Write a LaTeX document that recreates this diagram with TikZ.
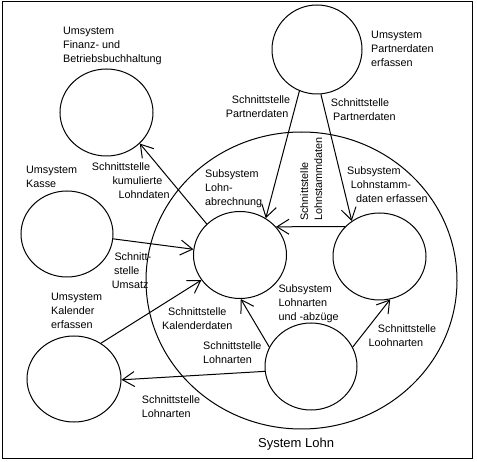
\documentclass[tikz,border=0pt]{standalone}
\usepackage{fontspec}
\setmainfont{Liberation Sans}
\usetikzlibrary{shapes.geometric,arrows.meta}
\newcommand{\mlines}[1]{\vtop{\baselineskip=14pt\lineskiplimit=-20pt\halign{##\hfil\cr#1\crcr}}}
\begin{document}
\begin{tikzpicture}[x=1pt,y=-1pt,
  ell/.style={draw, ellipse, inner sep=0pt, line width=1pt},
  lbl/.style={anchor=base west, inner sep=0pt, font=\fontsize{10.8}{14}\selectfont},
  arr/.style={draw, line width=1pt, -{Straight Barb[length=12pt,width=15pt]}}]
\useasboundingbox (0,0) rectangle (477,462);
\draw[line width=1pt] (2,2) rectangle (472,459);
% circles
\node[ell, minimum width=311pt, minimum height=297pt] (sys) at (301.5,280.5) {};
\node[ell, minimum width=93pt, minimum height=87pt] (fin) at (106.5,112.5) {};
\node[ell, minimum width=90pt, minimum height=89pt] (par) at (317,49.5) {};
\node[ell, minimum width=92pt, minimum height=86pt] (kas) at (67,234) {};
\node[ell, minimum width=94pt, minimum height=86pt] (kal) at (74,379) {};
\node[ell, minimum width=93pt, minimum height=87pt] (abr) at (240,255) {};
\node[ell, minimum width=93pt, minimum height=87pt] (sta) at (379.5,256.5) {};
\node[ell, minimum width=92pt, minimum height=87pt] (lar) at (311,366.5) {};
% connectors
\draw[arr] (abr.137) -- (fin.317);
\draw[arr] (kas.354) -- (abr.173);
\draw[arr] (kal.53) -- (abr.213);
\draw[arr] (lar.186) -- (kal.359);
\draw[arr] (lar.155) -- (abr.271);
\draw[arr] (lar.25) -- (sta.284);
\draw[arr] (sta.139) -- (abr.38);
\draw[arr] (par.247) -- (abr.55);
\draw[arr] (par.275) -- (sta.128);
% labels
\node[lbl] (tfin) at (63,34.3) {\mlines{Umsystem\cr Finanz- und\cr Betriebsbuchhaltung}};
\node[lbl] (tpar) at (371,39) {\mlines{Umsystem\cr Partnerdaten\cr erfassen}};
\node[lbl] (tsp1) at (225.7,103.3) {\mlines{\kern6pt Schnittstelle\cr Partnerdaten}};
\node[lbl] (tsp2) at (330.7,107) {\mlines{Schnittstelle\cr\kern2.3pt Partnerdaten}};
\node[lbl] (tkas) at (26,174) {\mlines{Umsystem\cr Kasse}};
\node[lbl] (tkum) at (91.7,170.7) {\mlines{Schnittstelle\cr\kern20.6pt kumulierte\cr\kern26.6pt Lohndaten}};
\node[lbl] (tabr) at (205,177.3) {\mlines{Subsystem\cr Lohn-\cr abrechnung}};
\node[lbl, rotate=90] (tlsd) at (308,221) {\mlines{Schnittstelle\cr Lohnstammdaten}};
\node[lbl] (tsta) at (347,175) {\mlines{Subsystem\cr\kern3.7pt Lohnstamm-\cr\kern9pt daten erfassen}};
\node[lbl] (tkal) at (51,300.7) {\mlines{Umsystem\cr Kalender\cr erfassen}};
\node[lbl] (tums) at (111.7,261) {\mlines{\kern2.6pt Schnitt-\cr\kern2.3pt stelle\cr Umsatz}};
\node[lbl] (tskd) at (162,315.7) {\mlines{\kern6pt Schnittstelle\cr Kalenderdaten}};
\node[lbl] (tlar) at (278.3,292.3) {\mlines{Subsystem\cr Lohnarten\cr und -abz\"uge}};
\node[lbl] (tsl1) at (203,350) {\mlines{Schnittstelle\cr Lohnarten}};
\node[lbl] (tsl2) at (141.7,404) {\mlines{Schnittstelle\cr Lohnarten}};
\node[lbl] (tsl3) at (368.3,332.3) {\mlines{\kern9.4pt Schnittstelle\cr Loohnarten}};
\node[lbl, font=\fontsize{13}{16}\selectfont] (tsys) at (258,448) {System Lohn};
\end{tikzpicture}
\end{document}
